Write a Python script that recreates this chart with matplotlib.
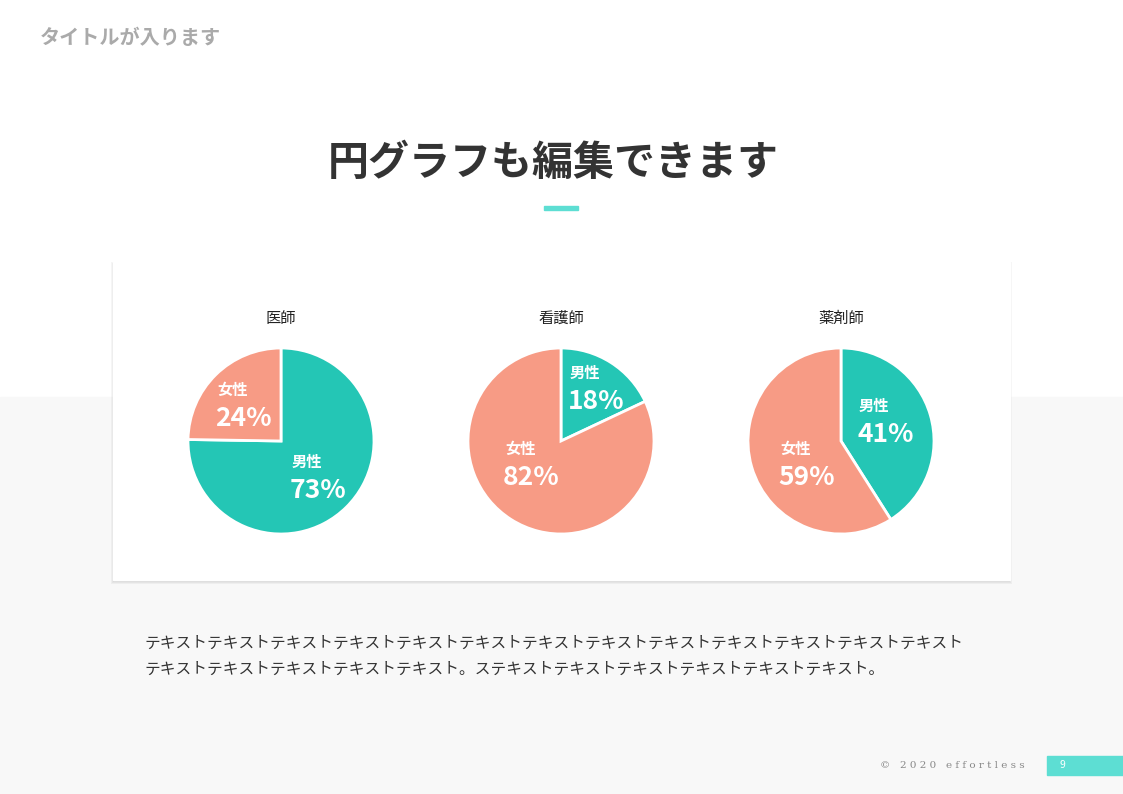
import matplotlib
matplotlib.use('Agg')
import matplotlib.pyplot as plt
from matplotlib.patches import Rectangle

plt.rcParams['font.family'] = 'Noto Sans CJK JP'

W, H = 1123, 794

# data
titles = ['医師', '看護師', '薬剤師']
male = [73, 18, 41]
female = [24, 82, 59]
teal = '#24c6b5'
salmon = '#f79b85'

fig = plt.figure(figsize=(W / 100, H / 100), dpi=100)

def fx(x):
    return x / W

def fy(y):
    return 1 - y / H

# background
bg = fig.add_axes([0, 0, 1, 1])
bg.set_xlim(0, W)
bg.set_ylim(H, 0)
bg.axis('off')
bg.add_patch(Rectangle((0, 397), W, H - 397, color='#f8f8f8', zorder=0))
# card shadow + card
for k, a in enumerate([0.04, 0.04, 0.05]):
    d = 3 - k
    bg.add_patch(Rectangle((113 - d + 1, 262 - d + 3), 897 + 2 * d - 2, 318 + 2 * d - 2,
                           color='black', alpha=a, lw=0, zorder=1))
bg.add_patch(Rectangle((113, 262), 897, 318, color='white', zorder=2))
bg.add_patch(Rectangle((544, 206), 34, 4, color='#5dded3', zorder=2))
bg.add_patch(Rectangle((1047, 756), 76, 19, color='#5dded3', zorder=2))

fig.text(fx(40), fy(38), 'タイトルが入ります', fontsize=14.5, fontweight='bold',
         color='#aaaaaa', va='center')
fig.text(fx(553), fy(163), '円グラフも編集できます', fontsize=29.5, fontweight='bold',
         color='#333333', ha='center', va='center')
fig.text(fx(145), fy(643), 'テキスト' * 13, fontsize=11.3, color='#333333', va='center')
fig.text(fx(145), fy(669), 'テキスト' * 5 + '。ス' + 'テキスト' * 6 + '。',
         fontsize=11.3, color='#333333', va='center')
fig.text(fx(1025), fy(765), '©   2 0 2 0   e f f o r t l e s s', fontsize=7.5,
         color='#888888', ha='right', va='center', family='DejaVu Serif')
fig.text(fx(1062), fy(765), '9', fontsize=7.5, color='white', ha='center', va='center')

centers = [281, 561, 841]
r = 93
for i in range(3):
    cx = centers[i]
    ax = fig.add_axes([fx(cx - r), fy(441 + r), 2 * r / W, 2 * r / H])
    ax.pie([male[i], female[i]], colors=[teal, salmon], startangle=90, counterclock=False,
           radius=1, wedgeprops=dict(edgecolor='white', linewidth=2))
    ax.set_xlim(-1, 1)
    ax.set_ylim(-1, 1)
    ax.set_aspect('auto')
    ax.patch.set_visible(False)
    fig.text(fx(cx), fy(318), titles[i], fontsize=11, color='#222222',
             ha='center', va='center')

# label positions (pixels)
labels = [
    (217, 390, '女性', female[0]), (292, 462, '男性', male[0]),
    (570, 373, '男性', male[1]), (505, 449, '女性', female[1]),
    (859, 406, '男性', male[2]), (780, 449, '女性', female[2]),
]
for x, y, name, v in labels:
    fig.text(fx(x), fy(y), name, fontsize=11, fontweight='bold', color='white',
             va='center', zorder=10)
    fig.text(fx(x - 2), fy(y + 28), f'{v}%', fontsize=19, fontweight='bold',
             color='white', va='center', zorder=10)

fig.savefig('out.png', dpi=100)
